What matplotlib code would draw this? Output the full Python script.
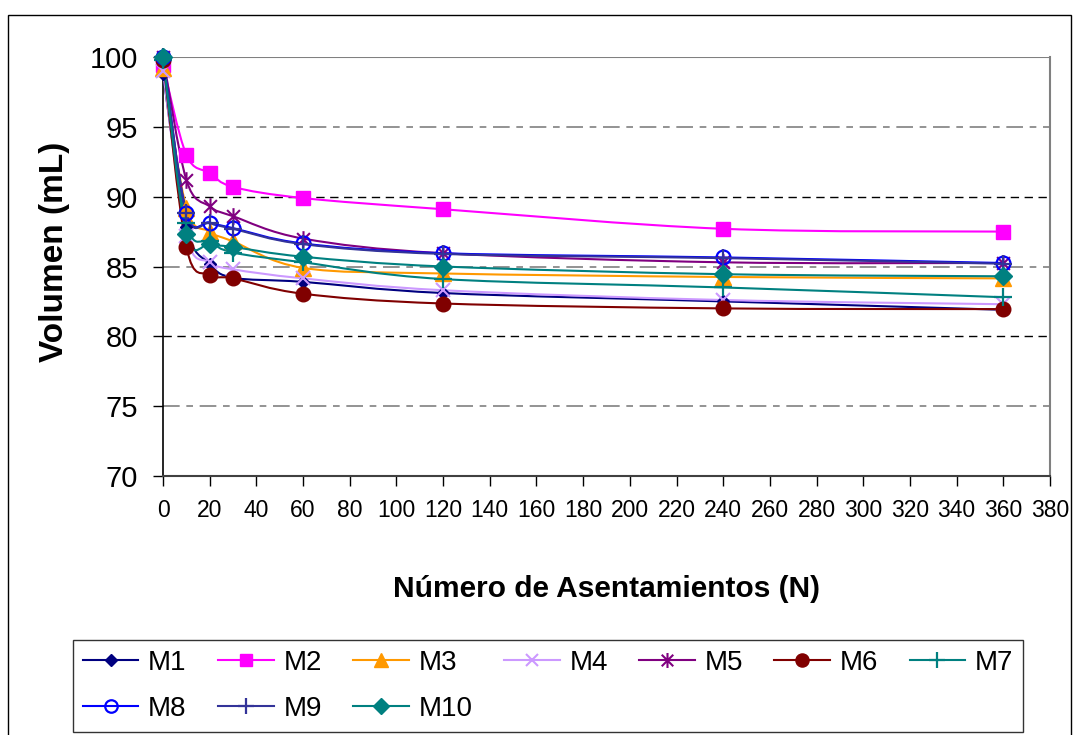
import numpy as np
import matplotlib
matplotlib.use("Agg")
import matplotlib.pyplot as plt
from matplotlib.path import Path
from matplotlib.patches import PathPatch, Rectangle
from matplotlib.lines import Line2D

plt.rcParams['font.family'] = ['Liberation Sans', 'DejaVu Sans']

# Number of settlings (x) and volume readings (mL) per sample
N = [0, 10, 20, 30, 60, 120, 240, 360]
M1 = [98.8, 87.8, 85.2, 84.2, 83.9, 83.1, 82.5, 81.9]
M2 = [99.4, 93.0, 91.7, 90.7, 89.9, 89.1, 87.7, 87.5]
M3 = [99.2, 89.2, 87.5, 86.8, 84.9, 84.5, 84.25, 84.15]
M4 = [99.0, 87.2, 85.3, 84.8, 84.15, 83.3, 82.6, 82.3]
M5 = [100.0, 91.2, 89.3, 88.6, 87.0, 85.95, 85.3, 85.25]
M6 = [99.8, 86.4, 84.4, 84.15, 83.05, 82.35, 82.0, 81.95]
M7 = [99.8, 88.1, 86.8, 86.0, 85.3, 84.1, 83.5, 82.8]
M8 = [100.0, 88.85, 88.15, 87.75, 86.65, 85.95, 85.65, 85.25]
M9 = [100.0, 88.8, 88.1, 87.7, 86.6, 85.9, 85.6, 85.2]
M10 = [100.0, 87.35, 86.6, 86.4, 85.7, 85.0, 84.45, 84.3]

labels = ["M1", "M2", "M3", "M4", "M5", "M6", "M7", "M8", "M9", "M10"]
series = [M1, M2, M3, M4, M5, M6, M7, M8, M9, M10]

x_ticks = list(range(0, 381, 20))
y_ticks = list(range(70, 101, 5))

# asterisk marker: an x crossed by a vertical bar
star = Path([(-1, -1), (1, 1), (-1, 1), (1, -1), (0, -1.3), (0, 1.3)],
            [Path.MOVETO, Path.LINETO, Path.MOVETO, Path.LINETO, Path.MOVETO, Path.LINETO])

styles = [
    dict(color="#000080", marker="D", ms=6.5, mfc="#000080", mew=1.0),
    dict(color="#FF00FF", marker="s", ms=10, mfc="#FF00FF", mew=1.0),
    dict(color="#FF9900", marker="^", ms=11, mfc="#FF9900", mew=1.0),
    dict(color="#CC99FF", marker="x", ms=10, mfc="#CC99FF", mew=1.5),
    dict(color="#800080", marker=star, ms=12, mfc="none", mew=1.5),
    dict(color="#800000", marker="o", ms=10.5, mfc="#800000", mew=1.0),
    dict(color="#008080", marker="+", ms=13, mfc="none", mew=1.6),
    dict(color="#0000FF", marker="o", ms=10, mfc="none", mew=1.6),
    dict(color="#333399", marker="+", ms=13, mfc="none", mew=1.6),
    dict(color="#008080", marker="D", ms=9, mfc="#008080", mew=1.0),
]


def smooth_path(x, y):
    pts = np.column_stack([x, y]).astype(float)
    n = len(pts)
    verts = [pts[0]]
    codes = [Path.MOVETO]
    for i in range(n - 1):
        p0 = pts[max(i - 1, 0)]
        p1 = pts[i]
        p2 = pts[i + 1]
        p3 = pts[min(i + 2, n - 1)]
        verts += [p1 + (p2 - p0) / 6.0, p2 - (p3 - p1) / 6.0, p2]
        codes += [Path.CURVE4] * 3
    return Path(verts, codes)


fig = plt.figure(figsize=(10.78, 7.35), dpi=100)
ax = fig.add_axes([163 / 1078, 1 - 476 / 735, 887 / 1078, 419 / 735])

# outer chart frame
fig.patches.append(Rectangle((8 / 1078, -0.02), 1063 / 1078, 1 - 15 / 735 + 0.02,
                             transform=fig.transFigure, fill=False,
                             edgecolor="black", lw=1.0, zorder=0))

ax.set_xlim(0, 380)
ax.set_ylim(70, 100)

# horizontal gridlines
for v in y_ticks[1:-1]:
    if v % 10 == 0:
        ax.axhline(v, color="black", lw=1.0, dashes=(6, 4), zorder=1)
    else:
        ax.axhline(v, color="#808080", lw=1.2, dashes=(10, 4, 4, 4), zorder=1)
ax.axhline(100, color="#808080", lw=1.5, zorder=1)

handles = {}
for lab, vals, st in zip(labels, series, styles):
    ax.add_patch(PathPatch(smooth_path(N, vals), fill=False, edgecolor=st["color"],
                           lw=1.5, zorder=3, capstyle="round", joinstyle="round"))
    ax.plot(N, vals, linestyle="none", marker=st["marker"], markersize=st["ms"],
            markerfacecolor=st["mfc"], markeredgecolor=st["color"],
            markeredgewidth=st["mew"], zorder=4, clip_on=False)
    handles[lab] = Line2D([], [], color=st["color"], lw=1.5, marker=st["marker"],
                          markersize=st["ms"] * 0.9, markerfacecolor=st["mfc"],
                          markeredgecolor=st["color"], markeredgewidth=st["mew"])

for side in ("top", "right"):
    ax.spines[side].set_color("#808080")
    ax.spines[side].set_linewidth(1.5)
ax.spines["top"].set_visible(False)
ax.spines["left"].set_color("black")
ax.spines["bottom"].set_color("#404040")
ax.spines["left"].set_linewidth(1.2)
ax.spines["bottom"].set_linewidth(1.5)

ax.set_xticks(x_ticks)
ax.set_yticks(y_ticks)
ax.set_xticklabels([str(t) for t in x_ticks],
                   fontfamily=['Liberation Sans Narrow', 'Liberation Sans'], fontsize=16.5)
ax.set_yticklabels([str(t) for t in y_ticks], fontsize=21)
ax.tick_params(axis="x", direction="out", length=7.5, width=1.0, pad=9)
ax.tick_params(axis="y", direction="out", length=7.5, width=1.0, pad=10.5)

ax.set_xlabel("Número de Asentamientos (N)", fontsize=21.5, fontweight="bold")
ax.set_ylabel("Volumen (mL)", fontsize=24, fontweight="bold")
ax.xaxis.set_label_coords(0.5, -0.236)
ax.yaxis.set_label_coords(-0.105, 0.535)

# legend laid out row by row: 7 columns, the first three holding two entries
order = ["M1", "M8", "M2", "M9", "M3", "M10", "M4", "M5", "M6", "M7"]
leg = fig.legend([handles[k] for k in order], order, ncol=7, loc="upper left",
                 bbox_to_anchor=(73 / 1078, 1 - 640 / 735, 950 / 1078, 0.0),
                 mode="expand", fontsize=20, frameon=True, fancybox=False,
                 edgecolor="black", handlelength=2.0, handletextpad=0.35,
                 labelspacing=0.73, borderpad=0.35, borderaxespad=0.0)
leg.get_frame().set_linewidth(1.0)

fig.savefig("out.png", dpi=100)
